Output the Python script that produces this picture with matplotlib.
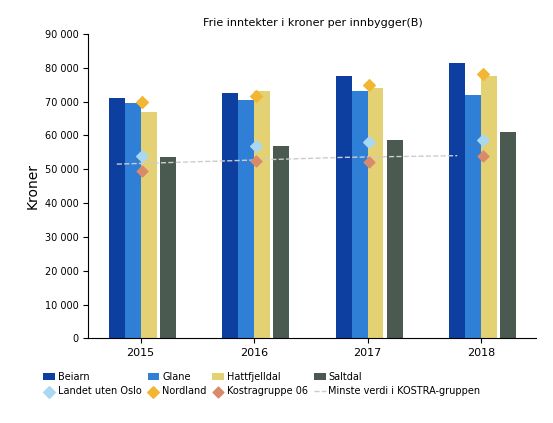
import matplotlib.pyplot as plt
import numpy as np

years = ['2015', '2016', '2017', '2018']
beiarn = [71000, 72500, 77500, 81500]
glane = [69500, 70500, 73000, 72000]
hattfjelldal = [67000, 73000, 74000, 77500]
saltdal = [53500, 57000, 58500, 61000]
nordland_pts = [70000, 71500, 75000, 78000]
landet_pts = [54000, 57000, 58000, 58500]
kostra_pts = [49500, 52500, 52000, 54000]
minste = [51500, 52500, 53500, 54000]

fig, ax = plt.subplots(figsize=(5.53, 4.23), dpi=100)
x = np.arange(len(years))
w = 0.14
h_b = ax.bar(x - 1.5*w, beiarn, w, color='#0d3fa0', label='Beiarn')
h_g = ax.bar(x - 0.5*w, glane, w, color='#2f7fd6', label='Glane')
h_h = ax.bar(x + 0.5*w, hattfjelldal, w, color='#e3d173', label='Hattfjelldal')
h_s = ax.bar(x + 1.7*w, saltdal, w, color='#4a5a50', label='Saltdal')
h_m, = ax.plot(x - 1.5*w, minste, color='#cccccc', lw=1, ls='--', label='Minste verdi i KOSTRA-gruppen')
h_l = ax.scatter(x + 0.1*w, landet_pts, marker='D', s=35, color='#a9d8f0', zorder=3, label='Landet uten Oslo')
h_n = ax.scatter(x + 0.1*w, nordland_pts, marker='D', s=35, color='#f2b632', zorder=3, label='Nordland')
h_k = ax.scatter(x + 0.1*w, kostra_pts, marker='D', s=30, color='#d98a6a', zorder=3, label='Kostragruppe 06')

ax.set_ylim(0, 90000)
ax.set_yticks(range(0, 90001, 10000))
ax.set_yticklabels([f'{v:,}'.replace(',', ' ') for v in range(0, 90001, 10000)], fontsize=7)
ax.set_xticks(x)
ax.set_xticklabels(years, fontsize=8)
ax.set_ylabel('Kroner', fontsize=10)
ax.set_title('Frie inntekter i kroner per innbygger(B)', fontsize=8)
for s in ['top', 'right']:
    ax.spines[s].set_visible(False)
handles = [h_b, h_l, h_g, h_n, h_h, h_k, h_s, h_m]
ax.legend(handles=handles, loc='upper left', bbox_to_anchor=(-0.12, -0.08), ncol=4, fontsize=7,
          frameon=False, handlelength=1.2, columnspacing=0.6, handletextpad=0.3)
plt.subplots_adjust(left=0.16, right=0.97, top=0.92, bottom=0.2)
plt.savefig('out.png')
